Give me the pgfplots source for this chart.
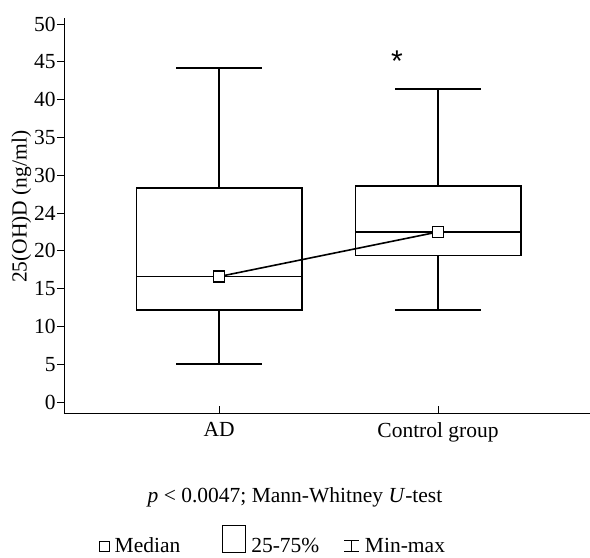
\documentclass[border=0pt]{standalone}
\usepackage{fontspec}
\setmainfont{Liberation Serif}
\setsansfont{Liberation Sans}
\usepackage{pgfplots}
\pgfplotsset{compat=1.18}

% box plot values: min, q1, median, q3, max
% AD:      5.0  12.2  16.6  28.3  44.2
% Control: 12.2 19.4  22.5  28.6  41.4

\begin{document}
\fontsize{21.5}{25}\selectfont
\begin{tikzpicture}[font=\fontsize{21.5}{25}\selectfont]
\begin{axis}[
    name=ax,
    scale only axis,
    width=526pt, height=395pt,
    xmin=0.292, xmax=2.694,
    ymin=-1.45, ymax=50.8,
    axis lines=left,
    axis line style={-, line width=0.9pt},
    xtick={1,2}, xticklabels={AD, Control group},
    ytick={0,5,...,50},
    yticklabels={0,5,10,15,20,24,30,35,40,45,50},
    xtick align=inside, ytick align=outside,
    major tick length=7pt,
    tick style={line width=0.9pt, black},
    xticklabel style={yshift=-2pt},
    yticklabel style={xshift=6pt},
    ylabel={25(OH)D (ng/ml)},
    ylabel style={at={(axis description cs:-0.081,0.522)}, anchor=center},
    unbounded coords=jump,
    legend style={draw=none, fill=none, at={(axis description cs:0.397,-0.325)},
        anchor=center, legend columns=3,
        /tikz/every even column/.append style={column sep=22pt},
        /tikz/every odd column/.append style={column sep=3pt},
        inner sep=0pt},
    legend cell align=left,
]
% boxes (q1 to q3)
\addplot[forget plot, black, line width=1.6pt, line join=miter] coordinates {
    (0.6225,12.2) (1.3775,12.2) (1.3775,28.3) (0.6225,28.3) (0.6225,12.2) (1.3775,12.2)};
\addplot[forget plot, black, line width=1.6pt, line join=miter] coordinates {
    (1.6225,19.4) (2.3775,19.4) (2.3775,28.6) (1.6225,28.6) (1.6225,19.4) (2.3775,19.4)};
% medians
\addplot[forget plot, black, line width=1.6pt] coordinates {(0.6225,16.6) (1.3775,16.6)};
\addplot[forget plot, black, line width=1.6pt] coordinates {(1.6225,22.5) (2.3775,22.5)};
% whiskers and caps
\addplot[forget plot, black, line width=1.6pt] coordinates {
    (1,28.3) (1,44.2) (nan,nan) (0.805,44.2) (1.195,44.2) (nan,nan)
    (1,12.2) (1,5.0) (nan,nan) (0.805,5.0) (1.195,5.0) (nan,nan)
    (2,28.6) (2,41.4) (nan,nan) (1.805,41.4) (2.195,41.4) (nan,nan)
    (2,19.4) (2,12.2) (nan,nan) (1.805,12.2) (2.195,12.2)};
% median markers joined
\addplot[forget plot, black, line width=1.6pt, mark=square*, mark size=5.5pt,
    mark options={fill=white, line width=1.2pt, solid}] coordinates {(1,16.6) (2,22.5)};
\node[font=\sffamily\fontsize{30}{30}\selectfont] at (axis cs:1.813,45.1) {*};

\addlegendimage{legend image code/.code={
    \draw[line width=1pt, fill=white] (0pt,-5pt) rectangle (10pt,5pt);}}
\addlegendentry{Median\rule{18pt}{0pt}}
\addlegendimage{legend image code/.code={
    \draw[line width=1pt] (0pt,-6pt) rectangle (23pt,21pt);}}
\addlegendentry{25-75\%}
\addlegendimage{legend image code/.code={
    \draw[line width=1.6pt] (0pt,-5pt) -- (15pt,-5pt) (0pt,6pt) -- (15pt,6pt) (7.5pt,-5pt) -- (7.5pt,6pt);}}
\addlegendentry{Min-max}
\end{axis}
\node[anchor=center] at ([xshift=231pt,yshift=-84.5pt]ax.south west)
    {\textit{p} < 0.0047; Mann-Whitney \textit{U}-test};
\pgfresetboundingbox
\path ([xshift=-64pt,yshift=-144pt]ax.south west) rectangle ([yshift=18pt]ax.north east);
\end{tikzpicture}
\end{document}
